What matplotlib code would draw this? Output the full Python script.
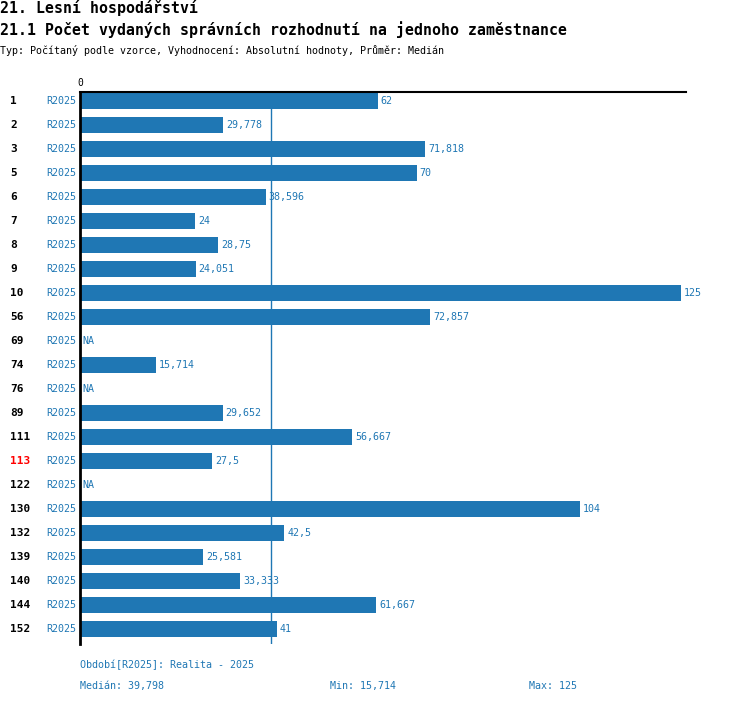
import numpy as np
import matplotlib
matplotlib.use("Agg")
import matplotlib.pyplot as plt

categories = ["1", "2", "3", "5", "6", "7", "8", "9", "10", "56", "69", "74", "76",
              "89", "111", "113", "122", "130", "132", "139", "140", "144", "152"]
values = [62, 29.778, 71.818, 70, 38.596, 24, 28.75, 24.051, 125, 72.857, None, 15.714,
          None, 29.652, 56.667, 27.5, None, 104, 42.5, 25.581, 33.333, 61.667, 41]
series_label = "R2025"
highlight = "113"
median_val = 39.798
min_val = 15.714
max_val = 125

title1 = "21. Lesní hospodářství"
title2 = "21.1 Počet vydaných správních rozhodnutí na jednoho zaměstnance"
subtitle = "Typ: Počítaný podle vzorce, Vyhodnocení: Absolutní hodnoty, Průměr: Medián"
footer1 = "Období[R2025]: Realita - 2025"


def fmt(v):
    s = f"{v:.3f}".rstrip("0").rstrip(".")
    return s.replace(".", ",")


W, H = 750, 704
fig = plt.figure(figsize=(W / 100, H / 100), dpi=100)
mono = ["DejaVu Sans Mono"]
blue = "#1f77b4"

x0, x1 = 80, 686
y0, y1 = 92, 644
ax = fig.add_axes([x0 / W, 1 - y1 / H, (x1 - x0) / W, (y1 - y0) / H])

n = len(categories)
pos = np.arange(n)
vals = np.array([np.nan if v is None else v for v in values], dtype=float)
ax.barh(pos, np.nan_to_num(vals), height=0.66, color=blue, zorder=2)
ax.set_ylim(n - 1 + 0.625, -0.375)
ax.set_xlim(0, 126.04)
ax.axvline(median_val, color=blue, lw=1.0, zorder=1)

for s in ["right", "bottom"]:
    ax.spines[s].set_visible(False)
ax.spines["left"].set_linewidth(2)
ax.spines["top"].set_linewidth(1.5)
ax.set_xticks([])
ax.set_yticks([])

for i, (c, v) in enumerate(zip(categories, vals)):
    txt = "NA" if np.isnan(v) else fmt(v)
    xv = 0 if np.isnan(v) else v
    ax.annotate(txt, (xv, i), xytext=(2, 0), textcoords="offset points",
                va="center", ha="left", fontsize=7.2, color=blue, family=mono)
    ax.annotate(series_label, (0, i), xytext=(-2.5, 0), textcoords="offset points",
                va="center", ha="right", fontsize=7.2, color=blue, family=mono)
    ax.annotate(c, (0, i), xycoords=("figure fraction", "data"),
                xytext=(10 / W, 0), textcoords=("figure fraction", "offset points"),
                va="center", ha="left", fontsize=8, fontweight="bold",
                color="red" if c == highlight else "black", family=mono)

ax.annotate("0", (0, -0.375), xytext=(0, 3), textcoords="offset points",
            ha="center", va="bottom", fontsize=7, family=mono)

fig.text(0, 1 - 8 / H, title1, fontsize=10.7, fontweight="bold", va="center", ha="left", family=mono)
fig.text(0, 1 - 30 / H, title2, fontsize=10.7, fontweight="bold", va="center", ha="left", family=mono)
fig.text(0, 1 - 50 / H, subtitle, fontsize=7.2, va="center", ha="left", family=mono)

fig.text(80 / W, 1 - 665 / H, footer1, fontsize=7.2, color=blue, va="center", ha="left", family=mono)
fig.text(80 / W, 1 - 686 / H, "Medián: " + fmt(median_val), fontsize=7.2, color=blue,
         va="center", ha="left", family=mono)
fig.text(330 / W, 1 - 686 / H, "Min: " + fmt(min_val), fontsize=7.2, color=blue,
         va="center", ha="left", family=mono)
fig.text(529 / W, 1 - 686 / H, "Max: " + fmt(max_val), fontsize=7.2, color=blue,
         va="center", ha="left", family=mono)

fig.savefig("out.png", dpi=100)
